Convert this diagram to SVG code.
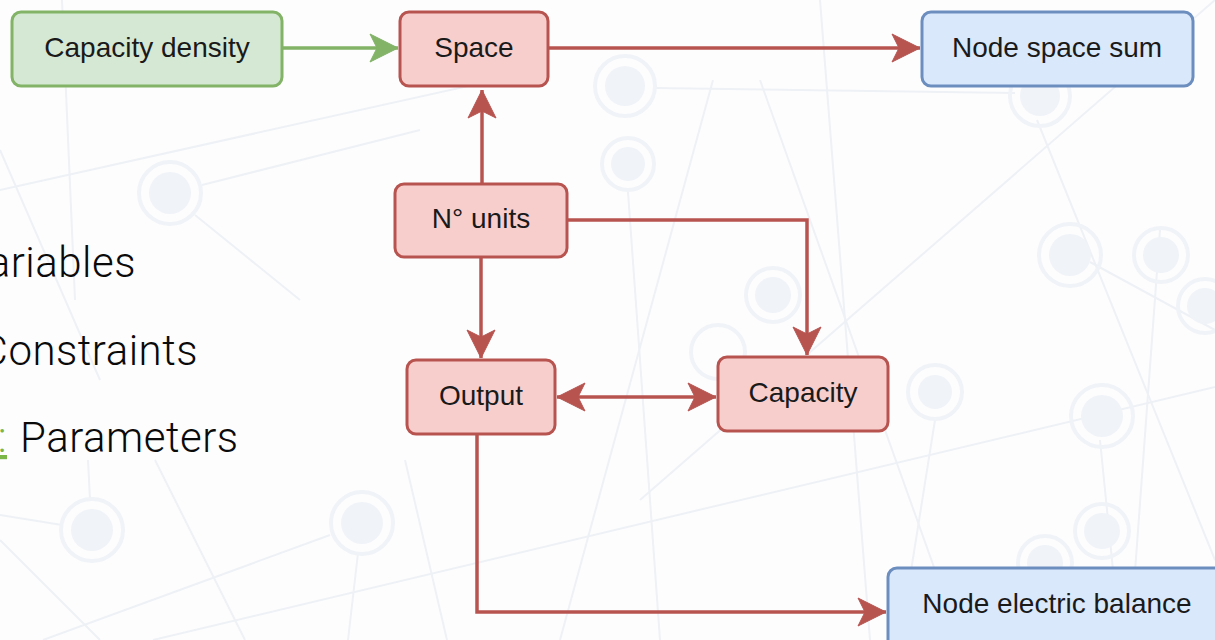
<svg xmlns="http://www.w3.org/2000/svg" width="1215" height="640" viewBox="0 0 1215 640">
<defs>
<style>
.bgl{stroke:#eef1f5;stroke-width:2;fill:none}
.bgc{fill:none;stroke:#f0f3f7;stroke-width:4}
.bgd{fill:#f0f3f8}
.node rect{stroke-width:3}
.red rect{fill:#f8cecc;stroke:#b85450}
.green rect{fill:#d5e8d4;stroke:#82b366}
.blue rect{fill:#dae8fc;stroke:#6c8ebf}
.node text{font-family:"Liberation Sans",Arial,sans-serif;font-size:28px;fill:#1a1a1a;text-anchor:middle}
.legend{font-family:Roboto,"Liberation Sans",sans-serif;font-weight:300;font-size:42px;fill:#0a0a0a;letter-spacing:0.5px}
.cr{stroke:#b85450;stroke-width:3.5;fill:none}
.cg{stroke:#82b366;stroke-width:3.5;fill:none}
</style>
<marker id="ar" markerUnits="userSpaceOnUse" markerWidth="32" markerHeight="32" viewBox="-30 -16 32 32" refX="0" refY="0" orient="auto-start-reverse">
<path d="M0,0 L-28,-14 L-21,0 L-28,14 Z" fill="#b85450" stroke="#b85450" stroke-width="1"/>
</marker>
<marker id="ag" markerUnits="userSpaceOnUse" markerWidth="32" markerHeight="32" viewBox="-30 -16 32 32" refX="0" refY="0" orient="auto">
<path d="M0,0 L-28,-14 L-21,0 L-28,14 Z" fill="#82b366" stroke="#82b366" stroke-width="1"/>
</marker>
</defs>
<rect width="1215" height="640" fill="#fdfdfe"/>
<g id="background">
<line class="bgl" x1="153" y1="640" x2="1215" y2="387"/>
<line class="bgl" x1="43" y1="640" x2="330" y2="535"/>
<line class="bgl" x1="0" y1="515" x2="62" y2="525"/>
<line class="bgl" x1="88" y1="460" x2="90" y2="500"/>
<line class="bgl" x1="0" y1="540" x2="100" y2="640"/>
<line class="bgl" x1="155" y1="460" x2="245" y2="640"/>
<line class="bgl" x1="405" y1="460" x2="447" y2="640"/>
<line class="bgl" x1="358" y1="553" x2="348" y2="640"/>
<line class="bgl" x1="0" y1="150" x2="100" y2="380"/>
<line class="bgl" x1="62" y1="0" x2="75" y2="300"/>
<line class="bgl" x1="202" y1="185" x2="420" y2="130"/>
<line class="bgl" x1="195" y1="215" x2="300" y2="300"/>
<line class="bgl" x1="713" y1="80" x2="560" y2="640"/>
<line class="bgl" x1="0" y1="190" x2="540" y2="70"/>
<line class="bgl" x1="655" y1="88" x2="1015" y2="93"/>
<line class="bgl" x1="628" y1="192" x2="660" y2="640"/>
<line class="bgl" x1="760" y1="80" x2="960" y2="640"/>
<line class="bgl" x1="1215" y1="0" x2="640" y2="500"/>
<line class="bgl" x1="1037" y1="120" x2="1215" y2="560"/>
<line class="bgl" x1="1100" y1="440" x2="1120" y2="640"/>
<line class="bgl" x1="1160" y1="230" x2="1130" y2="640"/>
<line class="bgl" x1="1090" y1="262" x2="1215" y2="330"/>
<line class="bgl" x1="935" y1="420" x2="900" y2="640"/>
<line class="bgl" x1="820" y1="0" x2="870" y2="640"/>
<circle class="bgc" cx="170" cy="193" r="31"/><circle class="bgd" cx="170" cy="193" r="21"/>
<circle class="bgc" cx="92" cy="530" r="31"/><circle class="bgd" cx="92" cy="530" r="21"/>
<circle class="bgc" cx="362" cy="523" r="31"/><circle class="bgd" cx="362" cy="523" r="21"/>
<circle class="bgc" cx="625" cy="86" r="30"/><circle class="bgd" cx="625" cy="86" r="20"/>
<circle class="bgc" cx="628" cy="164" r="26"/><circle class="bgd" cx="628" cy="164" r="17"/>
<circle class="bgc" cx="773" cy="295" r="27"/><circle class="bgd" cx="773" cy="295" r="18"/>
<circle class="bgc" cx="718" cy="352" r="27"/>
<circle class="bgc" cx="935" cy="392" r="27"/><circle class="bgd" cx="935" cy="392" r="17"/>
<circle class="bgc" cx="1040" cy="96" r="30"/><circle class="bgd" cx="1040" cy="96" r="20"/>
<circle class="bgc" cx="1070" cy="255" r="31"/><circle class="bgd" cx="1070" cy="255" r="21"/>
<circle class="bgc" cx="1161" cy="255" r="27"/><circle class="bgd" cx="1161" cy="255" r="18"/>
<circle class="bgc" cx="1205" cy="306" r="27"/><circle class="bgd" cx="1205" cy="306" r="18"/>
<circle class="bgc" cx="1102" cy="416" r="31"/><circle class="bgd" cx="1102" cy="416" r="21"/>
<circle class="bgc" cx="1102" cy="531" r="27"/><circle class="bgd" cx="1102" cy="531" r="18"/>
<circle class="bgc" cx="1045" cy="563" r="27"/><circle class="bgd" cx="1045" cy="563" r="18"/>
</g>
<g id="legend">
<text class="legend" x="136" y="277" text-anchor="end">ariables</text>
<text class="legend" x="198" y="365" text-anchor="end">Constraints</text>
<text class="legend" x="7" y="452" text-anchor="end" style="fill:#7ab648;text-decoration:underline">:</text>
<text class="legend" x="20" y="452">Parameters</text>
</g>
<g id="connectors">
<line class="cg" x1="282" y1="48" x2="398" y2="48" marker-end="url(#ag)"/>
<line class="cr" x1="548" y1="48" x2="920" y2="48" marker-end="url(#ar)"/>
<line class="cr" x1="482" y1="184" x2="482" y2="90" marker-end="url(#ar)"/>
<polyline class="cr" points="567,220 807,220 807,355" marker-end="url(#ar)"/>
<line class="cr" x1="481" y1="257" x2="481" y2="358" marker-end="url(#ar)"/>
<line class="cr" x1="557" y1="397" x2="716" y2="397" marker-start="url(#ar)" marker-end="url(#ar)"/>
<polyline class="cr" points="477,434 477,612 886,612" marker-end="url(#ar)"/>
</g>
<g id="node-capacity-density" class="node green"><rect x="12" y="12" width="270" height="74" rx="9"/><text x="147" y="57">Capacity density</text></g>
<g id="node-space" class="node red"><rect x="400" y="12" width="148" height="74" rx="9"/><text x="474" y="57">Space</text></g>
<g id="node-space-sum" class="node blue"><rect x="922" y="12" width="271" height="74" rx="9"/><text x="1057" y="57">Node space sum</text></g>
<g id="node-units" class="node red"><rect x="395" y="184" width="172" height="73" rx="9"/><text x="481" y="228">N° units</text></g>
<g id="node-output" class="node red"><rect x="407" y="360" width="148" height="74" rx="9"/><text x="481" y="405">Output</text></g>
<g id="node-capacity" class="node red"><rect x="718" y="357" width="170" height="74" rx="9"/><text x="803" y="402">Capacity</text></g>
<g id="node-electric-balance" class="node blue"><rect x="888" y="568" width="345" height="90" rx="9"/><text x="1057" y="613">Node electric balance</text></g>
</svg>
